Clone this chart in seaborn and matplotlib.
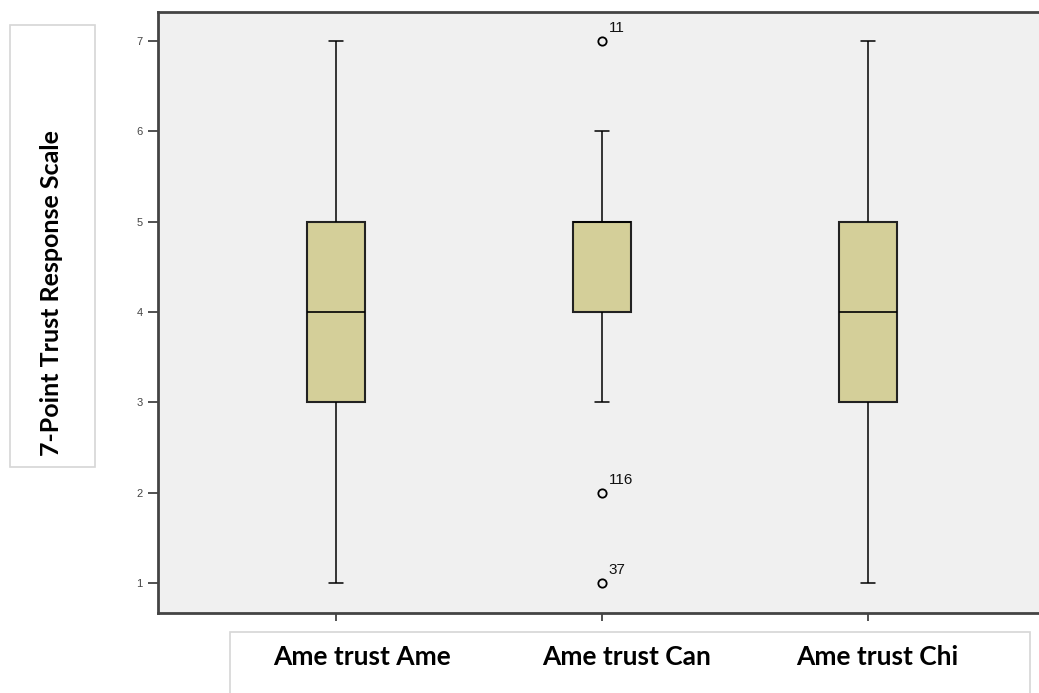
import numpy as np
import pandas as pd
import matplotlib
matplotlib.use("Agg")
import matplotlib.pyplot as plt
import matplotlib.transforms as mtransforms
from matplotlib.patches import Rectangle
import seaborn as sns

# responses per item (chosen to reproduce the quartiles/whiskers/outliers in the picture)
ame_ame = [1, 3, 3, 4, 4, 5, 5, 7]
ame_can = [1, 2, 3, 4, 4, 4, 5, 5, 5, 5, 5, 5, 6, 7]
ame_chi = [1, 3, 3, 4, 4, 5, 5, 7]
categories = ["Ame trust Ame", "Ame trust Can", "Ame trust Chi"]

# case numbers printed next to outliers
outlier_cat = ["Ame trust Can", "Ame trust Can", "Ame trust Can"]
outlier_val = [7, 2, 1]
outlier_id = ["11", "116", "37"]

y_ticks = [1, 2, 3, 4, 5, 6, 7]
y_title = "7-Point Trust Response Scale"

df = pd.DataFrame({
    "item": ["Ame trust Ame"] * len(ame_ame) + ["Ame trust Can"] * len(ame_can)
            + ["Ame trust Chi"] * len(ame_chi),
    "score": ame_ame + ame_can + ame_chi,
})

sns.set_style("white")
plt.rcParams["font.family"] = ["Liberation Sans", "DejaVu Sans"]

W, H = 1039, 693
fig = plt.figure(figsize=(W / 100, H / 100), dpi=100)
ax = fig.add_axes([158 / W, 1 - 613 / H, 1 - 158 / W, (613 - 12) / H])
ax.set_facecolor("#f0f0f0")

sns.boxplot(data=df, x="item", y="score", order=categories, ax=ax,
            width=0.215, color="#d4cf99", saturation=1, linecolor="#222222",
            linewidth=1.2,
            boxprops=dict(edgecolor="#222222", linewidth=1.5),
            whiskerprops=dict(color="black", linewidth=1.1),
            capprops=dict(color="black", linewidth=1.1),
            medianprops=dict(color="black", linewidth=1.2),
            flierprops=dict(marker="o", markersize=6, markerfacecolor="none",
                            markeredgecolor="black", markeredgewidth=1.3),
            capwidths=0.056)

for c, v, lab in zip(outlier_cat, outlier_val, outlier_id):
    ax.annotate(lab, xy=(categories.index(c), v), xytext=(5, 4),
                textcoords="offset points", ha="left", va="bottom",
                fontsize=11, color="#111111")

ax.set_xlim(-0.669, 2.643)
ax.set_ylim(0.668, 7.32)
ax.set_yticks(y_ticks)
ax.set_yticklabels([str(t) for t in y_ticks], fontsize=8, color="#444444")
ax.tick_params(axis="y", direction="out", length=7, width=1.2, color="#333333",
               left=True, pad=4)
ax.tick_params(axis="x", direction="out", length=6, width=1.2, color="#333333",
               bottom=True, pad=17)
ax.set_xticks(range(len(categories)))
ax.set_xticklabels(categories, fontsize=19, fontweight="bold", color="black",
                   family=["Lato", "DejaVu Sans"])
# the labels sit a little right of their ticks in the original
for lab, dx in zip(ax.get_xticklabels(), [26, 25, 9]):
    lab.set_transform(lab.get_transform()
                      + mtransforms.ScaledTranslation(dx / 100, 0, fig.dpi_scale_trans))
ax.set_xlabel("")
ax.set_ylabel("")
for s in ["left", "top", "bottom"]:
    ax.spines[s].set_color("#444444")
    ax.spines[s].set_linewidth(2)
ax.spines["right"].set_visible(False)

# framed boxes holding the axis titles
fig.patches.append(Rectangle((10 / W, 1 - 467 / H), 85 / W, 442 / H,
                             transform=fig.transFigure, fill=False,
                             edgecolor="#d6d6d6", linewidth=1.2))
fig.patches.append(Rectangle((230 / W, -0.01), 800 / W, (693 - 632) / H + 0.01,
                             transform=fig.transFigure, fill=False,
                             edgecolor="#d6d6d6", linewidth=1.2))
fig.text(52 / W, 1 - 293 / H, y_title, rotation=90, ha="center", va="center",
         fontsize=18, fontweight="bold", color="black",
         family=["Lato", "DejaVu Sans"])

fig.savefig("out.png", dpi=100)
